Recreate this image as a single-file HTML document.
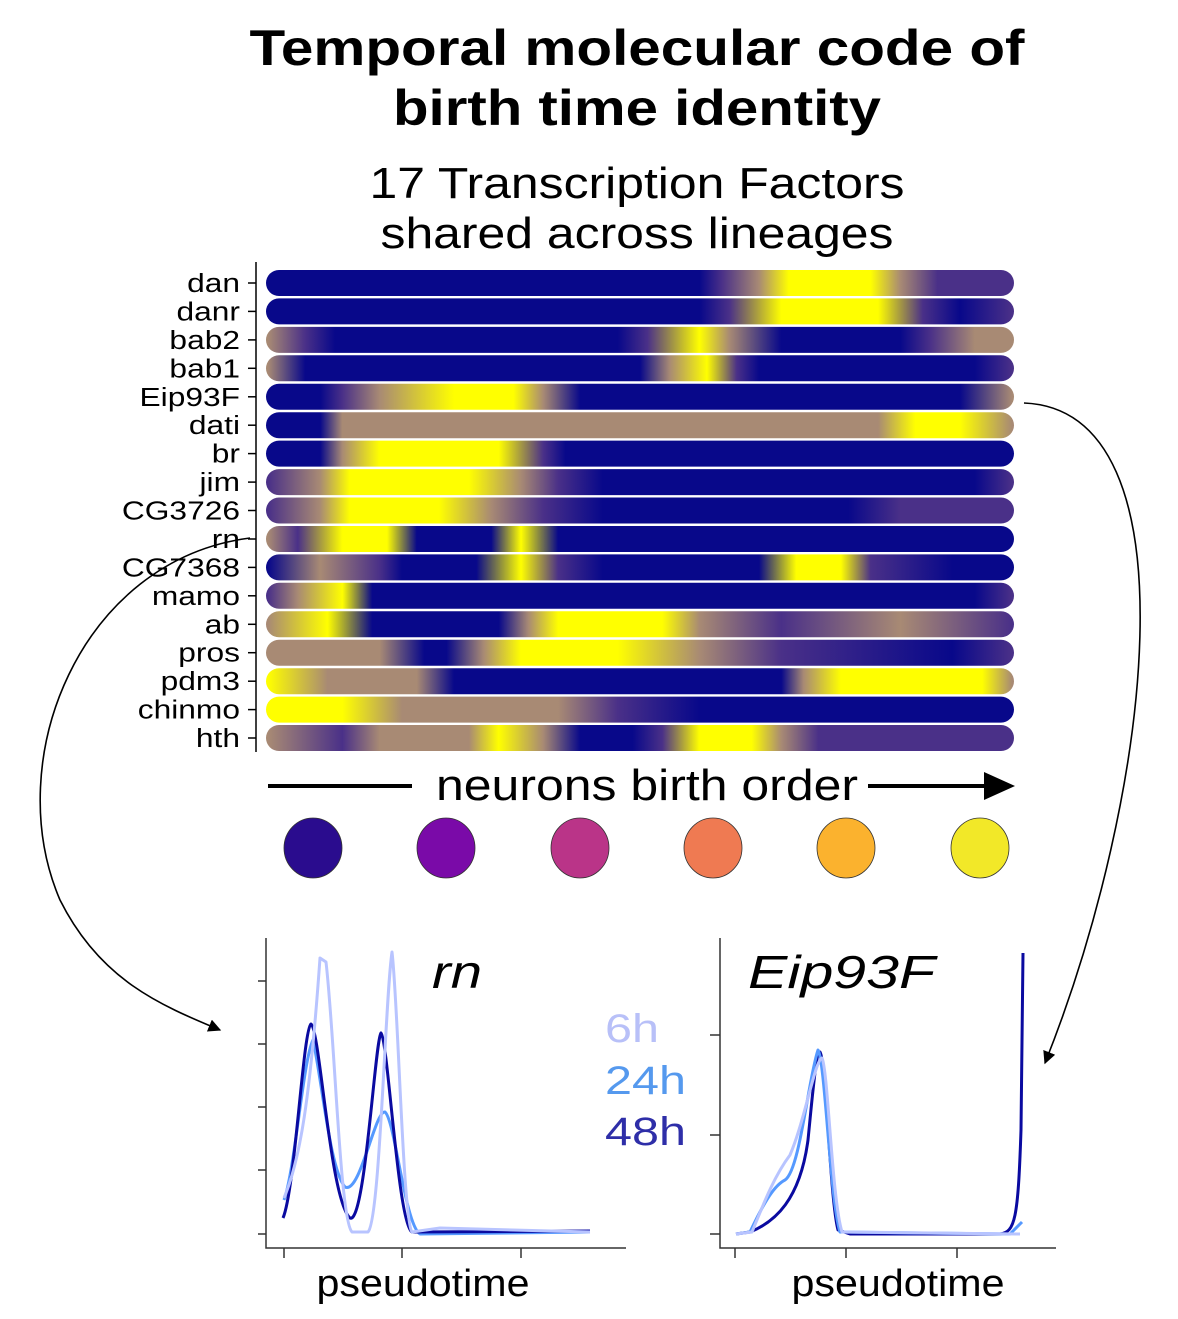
<!DOCTYPE html>
<html><head><meta charset="utf-8"><style>
body{margin:0;background:#fff}
svg{display:block}
text{font-family:"Liberation Sans",sans-serif}
</style></head><body>
<svg width="1178" height="1319" viewBox="0 0 1178 1319" xmlns="http://www.w3.org/2000/svg">
<defs>
<marker id="ah" viewBox="0 0 10 10" refX="9" refY="5" markerWidth="8" markerHeight="8" orient="auto"><path d="M0,0 L10,5 L0,10 z" fill="#000"/></marker>
<linearGradient id="g0" gradientUnits="userSpaceOnUse" x1="268" x2="1012"><stop offset="0" stop-color="#08088a"/><stop offset=".58" stop-color="#08088a"/><stop offset=".61" stop-color="#4a3088"/><stop offset=".66" stop-color="#a88a74"/><stop offset=".70" stop-color="#ffff00"/><stop offset=".81" stop-color="#ffff00"/><stop offset=".85" stop-color="#a88a74"/><stop offset=".90" stop-color="#4a3088"/><stop offset="1" stop-color="#4a3088"/></linearGradient>
<linearGradient id="g1" gradientUnits="userSpaceOnUse" x1="268" x2="1012"><stop offset="0" stop-color="#08088a"/><stop offset=".58" stop-color="#08088a"/><stop offset=".62" stop-color="#4a3088"/><stop offset=".69" stop-color="#ffff00"/><stop offset=".82" stop-color="#ffff00"/><stop offset=".88" stop-color="#4a3088"/><stop offset=".93" stop-color="#08088a"/><stop offset="1" stop-color="#4a3088"/></linearGradient>
<linearGradient id="g2" gradientUnits="userSpaceOnUse" x1="268" x2="1012"><stop offset="0" stop-color="#a88a74"/><stop offset=".05" stop-color="#4a3088"/><stop offset=".09" stop-color="#08088a"/><stop offset=".47" stop-color="#08088a"/><stop offset=".51" stop-color="#4a3088"/><stop offset=".58" stop-color="#ffff00"/><stop offset=".62" stop-color="#a88a74"/><stop offset=".69" stop-color="#08088a"/><stop offset=".85" stop-color="#08088a"/><stop offset=".89" stop-color="#4a3088"/><stop offset=".95" stop-color="#a88a74"/><stop offset="1" stop-color="#a88a74"/></linearGradient>
<linearGradient id="g3" gradientUnits="userSpaceOnUse" x1="268" x2="1012"><stop offset="0" stop-color="#a88a74"/><stop offset=".05" stop-color="#08088a"/><stop offset=".50" stop-color="#08088a"/><stop offset=".54" stop-color="#a88a74"/><stop offset=".59" stop-color="#ffff00"/><stop offset=".63" stop-color="#4a3088"/><stop offset=".66" stop-color="#08088a"/><stop offset=".95" stop-color="#08088a"/><stop offset="1" stop-color="#4a3088"/></linearGradient>
<linearGradient id="g4" gradientUnits="userSpaceOnUse" x1="268" x2="1012"><stop offset="0" stop-color="#08088a"/><stop offset=".07" stop-color="#08088a"/><stop offset=".10" stop-color="#4a3088"/><stop offset=".15" stop-color="#a88a74"/><stop offset=".25" stop-color="#ffff00"/><stop offset=".33" stop-color="#ffff00"/><stop offset=".37" stop-color="#a88a74"/><stop offset=".42" stop-color="#08088a"/><stop offset=".93" stop-color="#08088a"/><stop offset="1" stop-color="#a88a74"/></linearGradient>
<linearGradient id="g5" gradientUnits="userSpaceOnUse" x1="268" x2="1012"><stop offset="0" stop-color="#08088a"/><stop offset=".07" stop-color="#08088a"/><stop offset=".10" stop-color="#a88a74"/><stop offset=".82" stop-color="#a88a74"/><stop offset=".87" stop-color="#ffff00"/><stop offset=".93" stop-color="#ffff00"/><stop offset="1" stop-color="#a88a74"/></linearGradient>
<linearGradient id="g6" gradientUnits="userSpaceOnUse" x1="268" x2="1012"><stop offset="0" stop-color="#08088a"/><stop offset=".07" stop-color="#08088a"/><stop offset=".10" stop-color="#a88a74"/><stop offset=".15" stop-color="#ffff00"/><stop offset=".31" stop-color="#ffff00"/><stop offset=".37" stop-color="#4a3088"/><stop offset=".40" stop-color="#08088a"/><stop offset="1" stop-color="#08088a"/></linearGradient>
<linearGradient id="g7" gradientUnits="userSpaceOnUse" x1="268" x2="1012"><stop offset="0" stop-color="#4a3088"/><stop offset=".07" stop-color="#a88a74"/><stop offset=".11" stop-color="#ffff00"/><stop offset=".27" stop-color="#ffff00"/><stop offset=".34" stop-color="#a88a74"/><stop offset=".39" stop-color="#4a3088"/><stop offset=".45" stop-color="#08088a"/><stop offset=".95" stop-color="#08088a"/><stop offset="1" stop-color="#4a3088"/></linearGradient>
<linearGradient id="g8" gradientUnits="userSpaceOnUse" x1="268" x2="1012"><stop offset="0" stop-color="#4a3088"/><stop offset=".07" stop-color="#a88a74"/><stop offset=".11" stop-color="#ffff00"/><stop offset=".23" stop-color="#ffff00"/><stop offset=".30" stop-color="#a88a74"/><stop offset=".37" stop-color="#4a3088"/><stop offset=".45" stop-color="#08088a"/><stop offset=".78" stop-color="#08088a"/><stop offset=".85" stop-color="#4a3088"/><stop offset="1" stop-color="#4a3088"/></linearGradient>
<linearGradient id="g9" gradientUnits="userSpaceOnUse" x1="268" x2="1012"><stop offset="0" stop-color="#a88a74"/><stop offset=".04" stop-color="#4a3088"/><stop offset=".10" stop-color="#ffff00"/><stop offset=".16" stop-color="#ffff00"/><stop offset=".20" stop-color="#08088a"/><stop offset=".30" stop-color="#08088a"/><stop offset=".34" stop-color="#ffff00"/><stop offset=".39" stop-color="#08088a"/><stop offset="1" stop-color="#08088a"/></linearGradient>
<linearGradient id="g10" gradientUnits="userSpaceOnUse" x1="268" x2="1012"><stop offset="0" stop-color="#08088a"/><stop offset=".07" stop-color="#a88a74"/><stop offset=".15" stop-color="#4a3088"/><stop offset=".18" stop-color="#08088a"/><stop offset=".28" stop-color="#08088a"/><stop offset=".34" stop-color="#ffff00"/><stop offset=".39" stop-color="#4a3088"/><stop offset=".45" stop-color="#08088a"/><stop offset=".66" stop-color="#08088a"/><stop offset=".71" stop-color="#ffff00"/><stop offset=".77" stop-color="#ffff00"/><stop offset=".81" stop-color="#4a3088"/><stop offset=".92" stop-color="#08088a"/><stop offset="1" stop-color="#08088a"/></linearGradient>
<linearGradient id="g11" gradientUnits="userSpaceOnUse" x1="268" x2="1012"><stop offset="0" stop-color="#4a3088"/><stop offset=".04" stop-color="#a88a74"/><stop offset=".10" stop-color="#ffff00"/><stop offset=".14" stop-color="#08088a"/><stop offset=".95" stop-color="#08088a"/><stop offset="1" stop-color="#4a3088"/></linearGradient>
<linearGradient id="g12" gradientUnits="userSpaceOnUse" x1="268" x2="1012"><stop offset="0" stop-color="#a88a74"/><stop offset=".08" stop-color="#ffff00"/><stop offset=".14" stop-color="#08088a"/><stop offset=".31" stop-color="#08088a"/><stop offset=".35" stop-color="#a88a74"/><stop offset=".39" stop-color="#ffff00"/><stop offset=".53" stop-color="#ffff00"/><stop offset=".58" stop-color="#a88a74"/><stop offset=".69" stop-color="#4a3088"/><stop offset=".85" stop-color="#a88a74"/><stop offset="1" stop-color="#4a3088"/></linearGradient>
<linearGradient id="g13" gradientUnits="userSpaceOnUse" x1="268" x2="1012"><stop offset="0" stop-color="#a88a74"/><stop offset=".15" stop-color="#a88a74"/><stop offset=".21" stop-color="#08088a"/><stop offset=".24" stop-color="#08088a"/><stop offset=".29" stop-color="#a88a74"/><stop offset=".34" stop-color="#ffff00"/><stop offset=".47" stop-color="#ffff00"/><stop offset=".58" stop-color="#a88a74"/><stop offset=".69" stop-color="#4a3088"/><stop offset=".92" stop-color="#08088a"/><stop offset="1" stop-color="#4a3088"/></linearGradient>
<linearGradient id="g14" gradientUnits="userSpaceOnUse" x1="268" x2="1012"><stop offset="0" stop-color="#ffff00"/><stop offset=".08" stop-color="#a88a74"/><stop offset=".20" stop-color="#a88a74"/><stop offset=".25" stop-color="#08088a"/><stop offset=".69" stop-color="#08088a"/><stop offset=".72" stop-color="#a88a74"/><stop offset=".77" stop-color="#ffff00"/><stop offset=".96" stop-color="#ffff00"/><stop offset="1" stop-color="#a88a74"/></linearGradient>
<linearGradient id="g15" gradientUnits="userSpaceOnUse" x1="268" x2="1012"><stop offset="0" stop-color="#ffff00"/><stop offset=".10" stop-color="#ffff00"/><stop offset=".18" stop-color="#a88a74"/><stop offset=".39" stop-color="#a88a74"/><stop offset=".47" stop-color="#4a3088"/><stop offset=".58" stop-color="#08088a"/><stop offset="1" stop-color="#08088a"/></linearGradient>
<linearGradient id="g16" gradientUnits="userSpaceOnUse" x1="268" x2="1012"><stop offset="0" stop-color="#a88a74"/><stop offset=".10" stop-color="#4a3088"/><stop offset=".15" stop-color="#a88a74"/><stop offset=".27" stop-color="#a88a74"/><stop offset=".31" stop-color="#ffff00"/><stop offset=".37" stop-color="#a88a74"/><stop offset=".42" stop-color="#08088a"/><stop offset=".49" stop-color="#08088a"/><stop offset=".53" stop-color="#4a3088"/><stop offset=".58" stop-color="#ffff00"/><stop offset=".65" stop-color="#ffff00"/><stop offset=".69" stop-color="#a88a74"/><stop offset=".74" stop-color="#4a3088"/><stop offset="1" stop-color="#4a3088"/></linearGradient>
</defs>

<text x="637" y="65" font-size="50" font-weight="bold" text-anchor="middle" textLength="775" lengthAdjust="spacingAndGlyphs">Temporal molecular code of</text>
<text x="637" y="125" font-size="50" font-weight="bold" text-anchor="middle" textLength="488" lengthAdjust="spacingAndGlyphs">birth time identity</text>
<text x="637" y="198" font-size="44" text-anchor="middle" textLength="535" lengthAdjust="spacingAndGlyphs">17 Transcription Factors</text>
<text x="637" y="248" font-size="44" text-anchor="middle" textLength="513" lengthAdjust="spacingAndGlyphs">shared across lineages</text>

<g>
<rect x="266" y="270" width="748" height="26" rx="13" fill="url(#g0)"/>
<rect x="266" y="298.4" width="748" height="26" rx="13" fill="url(#g1)"/>
<rect x="266" y="326.9" width="748" height="26" rx="13" fill="url(#g2)"/>
<rect x="266" y="355.3" width="748" height="26" rx="13" fill="url(#g3)"/>
<rect x="266" y="383.8" width="748" height="26" rx="13" fill="url(#g4)"/>
<rect x="266" y="412.2" width="748" height="26" rx="13" fill="url(#g5)"/>
<rect x="266" y="440.6" width="748" height="26" rx="13" fill="url(#g6)"/>
<rect x="266" y="469.1" width="748" height="26" rx="13" fill="url(#g7)"/>
<rect x="266" y="497.5" width="748" height="26" rx="13" fill="url(#g8)"/>
<rect x="266" y="526" width="748" height="26" rx="13" fill="url(#g9)"/>
<rect x="266" y="554.4" width="748" height="26" rx="13" fill="url(#g10)"/>
<rect x="266" y="582.8" width="748" height="26" rx="13" fill="url(#g11)"/>
<rect x="266" y="611.3" width="748" height="26" rx="13" fill="url(#g12)"/>
<rect x="266" y="639.7" width="748" height="26" rx="13" fill="url(#g13)"/>
<rect x="266" y="668.2" width="748" height="26" rx="13" fill="url(#g14)"/>
<rect x="266" y="696.6" width="748" height="26" rx="13" fill="url(#g15)"/>
<rect x="266" y="725" width="748" height="26" rx="13" fill="url(#g16)"/>
</g>

<g stroke="#000" stroke-width="1.5">
<line x1="256" y1="262" x2="256" y2="752"/>
<line x1="248" y1="283" x2="256" y2="283"/><line x1="248" y1="311.4" x2="256" y2="311.4"/><line x1="248" y1="339.9" x2="256" y2="339.9"/><line x1="248" y1="368.3" x2="256" y2="368.3"/><line x1="248" y1="396.8" x2="256" y2="396.8"/><line x1="248" y1="425.2" x2="256" y2="425.2"/><line x1="248" y1="453.6" x2="256" y2="453.6"/><line x1="248" y1="482.1" x2="256" y2="482.1"/><line x1="248" y1="510.5" x2="256" y2="510.5"/><line x1="248" y1="539" x2="256" y2="539"/><line x1="248" y1="567.4" x2="256" y2="567.4"/><line x1="248" y1="595.8" x2="256" y2="595.8"/><line x1="248" y1="624.3" x2="256" y2="624.3"/><line x1="248" y1="652.7" x2="256" y2="652.7"/><line x1="248" y1="681.2" x2="256" y2="681.2"/><line x1="248" y1="709.6" x2="256" y2="709.6"/><line x1="248" y1="738" x2="256" y2="738"/>
</g>
<g font-size="26" text-anchor="end" transform="translate(240,0) scale(1.22,1) translate(-240,0)">
<text x="240" y="292">dan</text><text x="240" y="320.4">danr</text><text x="240" y="348.9">bab2</text><text x="240" y="377.3">bab1</text><text x="240" y="405.8">Eip93F</text><text x="240" y="434.2">dati</text><text x="240" y="462.6">br</text><text x="240" y="491.1">jim</text><text x="240" y="519.5">CG3726</text><text x="240" y="548">rn</text><text x="240" y="576.4">CG7368</text><text x="240" y="604.8">mamo</text><text x="240" y="633.3">ab</text><text x="240" y="661.7">pros</text><text x="240" y="690.2">pdm3</text><text x="240" y="718.6">chinmo</text><text x="240" y="747">hth</text>
</g>

<line x1="268" y1="786" x2="412" y2="786" stroke="#000" stroke-width="4"/>
<text x="647" y="800" font-size="44" text-anchor="middle" textLength="422" lengthAdjust="spacingAndGlyphs">neurons birth order</text>
<line x1="868" y1="786" x2="990" y2="786" stroke="#000" stroke-width="4"/>
<path d="M984,772 L1015,786 L984,800 z" fill="#000"/>

<g stroke="#333" stroke-width="0.8">
<ellipse cx="313" cy="848" rx="29" ry="30" fill="#2a0c8e"/>
<ellipse cx="446" cy="848" rx="29" ry="30" fill="#7a0aa8"/>
<ellipse cx="580" cy="848" rx="29" ry="30" fill="#ba3488"/>
<ellipse cx="713" cy="848" rx="29" ry="30" fill="#ef7a52"/>
<ellipse cx="846" cy="848" rx="29" ry="30" fill="#fbb22e"/>
<ellipse cx="980" cy="848" rx="29" ry="30" fill="#f2e828"/>
</g>

<path d="M250,538 C80,560 0,760 60,900 C100,980 160,1005 220,1030" fill="none" stroke="#000" stroke-width="1.6" marker-end="url(#ah)"/>
<path d="M1024,403 C1200,410 1150,800 1045,1063" fill="none" stroke="#000" stroke-width="1.6" marker-end="url(#ah)"/>

<g stroke="#333" stroke-width="1.5" fill="none">
<path d="M266,938 V1248 H626"/>
<line x1="258" y1="981" x2="266" y2="981"/><line x1="258" y1="1044" x2="266" y2="1044"/><line x1="258" y1="1107" x2="266" y2="1107"/><line x1="258" y1="1170" x2="266" y2="1170"/><line x1="258" y1="1234" x2="266" y2="1234"/>
<line x1="284" y1="1248" x2="284" y2="1258"/><line x1="402" y1="1248" x2="402" y2="1258"/><line x1="521" y1="1248" x2="521" y2="1258"/>
</g>
<g fill="none" stroke-width="3" stroke-linejoin="round">
<path d="M284,1200 C295,1170 303,1060 313,1040 C322,1080 330,1170 345,1187 C360,1195 375,1110 385,1112 C395,1120 405,1225 420,1234 L590,1232" stroke="#5599ff"/>
<path d="M283,1218 C295,1190 303,1030 311,1024 C320,1030 330,1200 350,1218 C365,1225 375,1040 381,1033 C388,1040 398,1225 412,1232 L590,1231" stroke="#0a0aa0"/>
<path d="M284,1198 C300,1160 310,1100 320,958 L326,962 C335,1040 340,1220 352,1232 L368,1232 C380,1220 385,1000 392,952 C398,1000 403,1220 412,1232 L440,1228 L590,1232" stroke="#b8c4ff"/>
</g>
<text x="432" y="988" font-size="46" font-style="italic" textLength="50" lengthAdjust="spacingAndGlyphs">rn</text>
<text x="605" y="1042" font-size="40" fill="#b8c0f8" textLength="54" lengthAdjust="spacingAndGlyphs">6h</text>
<text x="605" y="1094" font-size="40" fill="#5599ee" textLength="81" lengthAdjust="spacingAndGlyphs">24h</text>
<text x="605" y="1145" font-size="40" fill="#2e2ea8" textLength="81" lengthAdjust="spacingAndGlyphs">48h</text>
<text x="423" y="1296" font-size="38" text-anchor="middle" textLength="213" lengthAdjust="spacingAndGlyphs">pseudotime</text>

<g stroke="#333" stroke-width="1.5" fill="none">
<path d="M720,938 V1248 H1056"/>
<line x1="710" y1="1035" x2="720" y2="1035"/><line x1="710" y1="1135" x2="720" y2="1135"/><line x1="710" y1="1234" x2="720" y2="1234"/>
<line x1="735" y1="1248" x2="735" y2="1258"/><line x1="846" y1="1248" x2="846" y2="1258"/><line x1="957" y1="1248" x2="957" y2="1258"/>
</g>
<g fill="none" stroke-width="3" stroke-linejoin="round">
<path d="M736,1234 L750,1232 C775,1222 800,1200 808,1140 C813,1090 816,1052 820,1052 C826,1060 830,1200 838,1230 L850,1234 L1000,1234 C1015,1232 1018,1220 1021,1130 L1023,953" stroke="#0a0aa0"/>
<path d="M736,1234 L750,1232 C765,1200 775,1185 785,1180 C800,1170 808,1080 818,1050 C825,1060 830,1200 840,1232 L1010,1234 L1022,1222" stroke="#5599ff"/>
<path d="M736,1234 L752,1232 C765,1200 775,1175 790,1155 C805,1120 815,1060 822,1058 C828,1070 832,1200 842,1232 L1020,1234" stroke="#b8c4ff"/>
</g>
<text x="748" y="988" font-size="46" font-style="italic" textLength="187" lengthAdjust="spacingAndGlyphs">Eip93F</text>
<text x="898" y="1296" font-size="38" text-anchor="middle" textLength="213" lengthAdjust="spacingAndGlyphs">pseudotime</text>
</svg>
</body></html>
